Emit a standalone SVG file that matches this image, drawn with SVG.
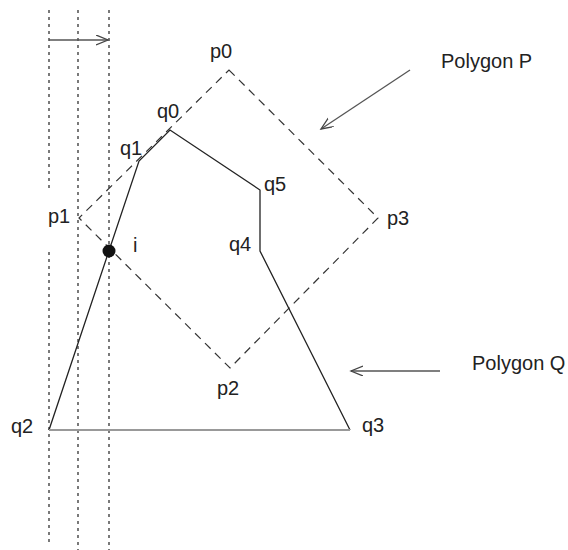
<svg xmlns="http://www.w3.org/2000/svg" width="568" height="550" viewBox="0 0 568 550">
<defs>
<style>
text{font-family:"Liberation Sans",Arial,sans-serif;font-size:20px;fill:#222}
.dot{stroke:#222;stroke-width:1.2;stroke-dasharray:3 4;fill:none}
.pp{stroke:#333;stroke-width:1.2;stroke-dasharray:8 6;fill:none}
.qq{stroke:#222;stroke-width:1.3;fill:none}
.arr{stroke:#555;stroke-width:1.3;fill:none}
</style>
<marker id="ah" markerWidth="14" markerHeight="12" refX="12" refY="5" orient="auto" markerUnits="userSpaceOnUse">
<path d="M0,0 L12,5 L0,10" fill="none" stroke="#444" stroke-width="1.3"/>
</marker>
</defs>
<rect width="568" height="550" fill="#fff"/>
<g id="sweep">
<line class="dot" x1="49" y1="10" x2="49" y2="188"/>
<line class="dot" x1="49" y1="252" x2="49" y2="545"/>
<line class="dot" x1="78" y1="10" x2="78" y2="550"/>
<line class="dot" x1="109" y1="10" x2="109" y2="550"/>
</g>
<g id="polygonP">
<polygon class="pp" points="229,70 378,218 230,368 79,218"/>
</g>
<g id="polygonQ">
<polyline class="qq" points="49,430 139,161 170,130 260,190 260,251 350,430"/>
<line x1="49" y1="430" x2="350" y2="430" stroke="#999" stroke-width="2"/>
</g>
<g id="connectors">
<line class="arr" x1="49" y1="40" x2="108" y2="40" marker-end="url(#ah)" stroke="#222"/>
<line class="arr" x1="410" y1="70" x2="321" y2="129" marker-end="url(#ah)"/>
<line class="arr" x1="440" y1="371" x2="351" y2="371" stroke="#888" marker-end="url(#ah)"/>
</g>
<g id="point-i">
<circle cx="109" cy="251" r="6.5" fill="#111"/>
<text x="133" y="252">i</text>
</g>
<g id="labels">
<text x="210" y="58">p0</text>
<text x="157" y="118">q0</text>
<text x="120" y="155">q1</text>
<text x="264" y="191">q5</text>
<text x="48" y="223">p1</text>
<text x="229" y="251">q4</text>
<text x="387" y="225">p3</text>
<text x="217" y="395">p2</text>
<text x="11" y="433">q2</text>
<text x="362" y="432">q3</text>
<text x="441" y="68">Polygon P</text>
<text x="472" y="370">Polygon Q</text>
</g>
</svg>
